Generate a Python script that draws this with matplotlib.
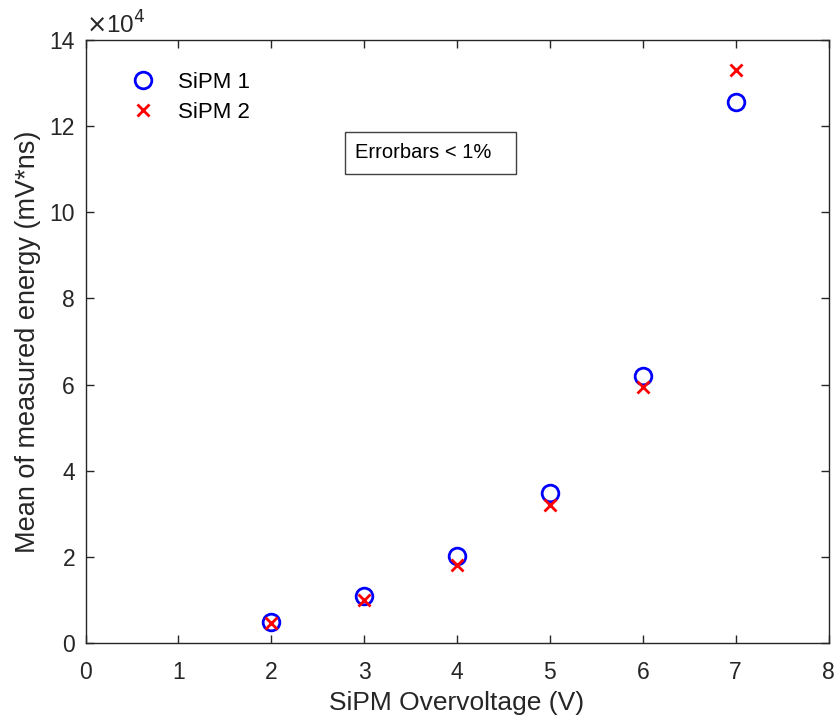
import matplotlib
matplotlib.use("Agg")
import matplotlib.pyplot as plt
from matplotlib.patches import Rectangle
from matplotlib.ticker import FuncFormatter

plt.rcParams['font.family'] = ['Liberation Sans', 'DejaVu Sans']

overvoltage = [2, 3, 4, 5, 6, 7]
sipm1_energy = [4900, 10900, 20200, 34800, 62000, 125600]
sipm2_energy = [4600, 10000, 18100, 32000, 59400, 133000]

xticks = [0, 1, 2, 3, 4, 5, 6, 7, 8]
yticks = [0, 20000, 40000, 60000, 80000, 100000, 120000, 140000]

axis_color = '#262626'

fig = plt.figure(figsize=(8.34, 7.21), dpi=100)
ax = fig.add_axes([85.5 / 834, 78 / 721, 743 / 834, 603 / 721])

ax.plot(overvoltage, sipm1_energy, linestyle='none', marker='o', markersize=12,
        markerfacecolor='none', markeredgecolor='#0000ff', markeredgewidth=2,
        label='SiPM 1')
ax.plot(overvoltage, sipm2_energy, linestyle='none', marker='x', markersize=9,
        color='#ff0000', markeredgewidth=2, label='SiPM 2')

ax.set_xlim(0, 8)
ax.set_ylim(0, 140000)
ax.set_xticks(xticks)
ax.set_yticks(yticks)
ax.yaxis.set_major_formatter(FuncFormatter(lambda v, p: f"{v/1e4:g}"))

ax.tick_params(direction='in', length=6, width=1, colors=axis_color,
               labelsize=16.5, top=True, right=True)
ax.tick_params(axis='x', pad=13)
ax.tick_params(axis='y', pad=7.5)
for s in ax.spines.values():
    s.set_color(axis_color)
    s.set_linewidth(1)

ax.set_xlabel('SiPM Overvoltage (V)', fontsize=19, color=axis_color, labelpad=5)
ax.set_ylabel('Mean of measured energy (mV*ns)', fontsize=19.5, color=axis_color,
              labelpad=6)

ax.text(0.0, 1.003, r'$\times$10$^{4}$', transform=ax.transAxes, fontsize=17.5,
        color=axis_color, ha='left', va='bottom')

leg = ax.legend(loc='upper left', bbox_to_anchor=(0.021, 0.98), frameon=False,
                fontsize=16, handletextpad=0.55, labelspacing=0.4)
for t in leg.get_texts():
    t.set_color('black')

# annotation box in axes fraction
box_x0, box_x1 = (345 - 85.5) / 743, (516 - 85.5) / 743
box_y0, box_y1 = (643 - 174) / 603, (643 - 132) / 603
ax.add_patch(Rectangle((box_x0, box_y0), box_x1 - box_x0, box_y1 - box_y0,
                       transform=ax.transAxes, facecolor='white',
                       edgecolor='#404040', linewidth=1, zorder=3))
ax.text(box_x0 + 10 / 743, (box_y0 + box_y1) / 2, 'Errorbars < 1%',
        transform=ax.transAxes, fontsize=14.5, color='black',
        ha='left', va='center', zorder=4)

fig.savefig('out.png', dpi=100, facecolor='white')
